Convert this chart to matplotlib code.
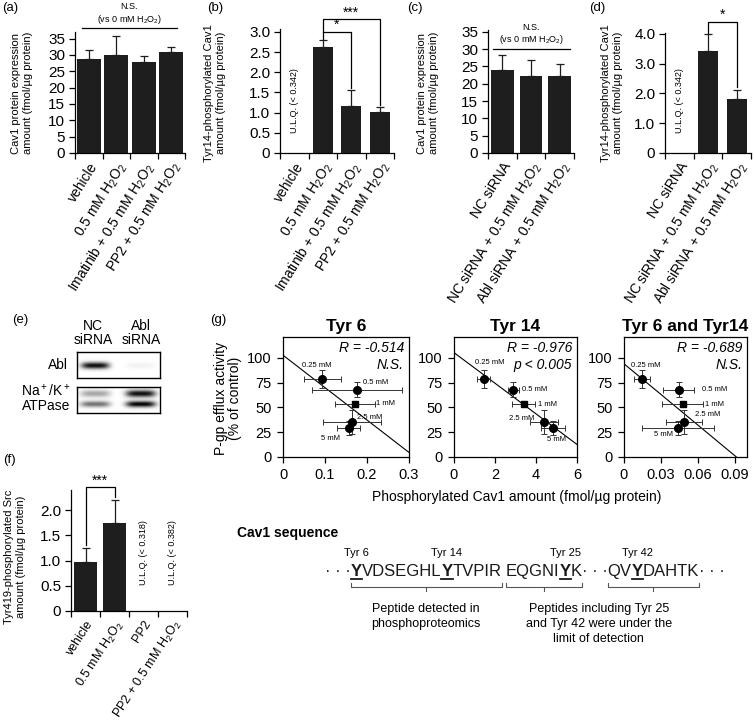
import numpy as np
import matplotlib
matplotlib.use('Agg')
import matplotlib.pyplot as plt
from matplotlib.lines import Line2D
from matplotlib.ticker import FuncFormatter

plt.rcParams['font.family'] = ['Liberation Sans', 'DejaVu Sans']
plt.rcParams['mathtext.fontset'] = 'custom'
plt.rcParams['mathtext.rm'] = 'Liberation Sans'
plt.rcParams['mathtext.it'] = 'Liberation Sans:italic'
plt.rcParams['mathtext.bf'] = 'Liberation Sans:bold'

H2O2 = 'H$_2$O$_2$'

# (a) Cav1 expression
a_labels = ['vehicle', '0.5 mM ' + H2O2, 'Imatinib + 0.5 mM ' + H2O2, 'PP2 + 0.5 mM ' + H2O2]
a_values = [28.6, 29.9, 27.8, 30.8]
a_errors = [3.0, 5.8, 1.8, 1.6]

# (b) Tyr14-phosphorylated Cav1
b_labels = a_labels
b_values = [0, 2.62, 1.16, 1.01]
b_errors = [0, 0.17, 0.41, 0.13]

# (c) Cav1 expression, siRNA
c_labels = ['NC siRNA', 'NC siRNA + 0.5 mM ' + H2O2, 'Abl siRNA + 0.5 mM ' + H2O2]
c_values = [24.0, 22.3, 22.1]
c_errors = [4.3, 4.6, 3.6]

# (d) Tyr14-phosphorylated Cav1, siRNA
d_labels = c_labels
d_values = [0, 3.42, 1.83]
d_errors = [0, 0.56, 0.30]

# (f) Tyr419-phosphorylated Src
f_labels = ['vehicle', '0.5 mM ' + H2O2, 'PP2', 'PP2 + 0.5 mM ' + H2O2]
f_values = [0.97, 1.74, 0, 0]
f_errors = [0.28, 0.47, 0, 0]

# (e) western blot band darkness (NC siRNA, Abl siRNA)
blot_lanes = ['NC\nsiRNA', 'Abl\nsiRNA']
abl_band = [0.95, 0.05]
atpase_upper = [0.35, 0.95]
atpase_lower = [0.55, 1.0]

# (g) P-gp efflux vs phosphorylated Cav1
g_conc = ['0.25 mM', '0.5 mM', '1 mM', '2.5 mM', '5 mM']
g_efflux = [79, 68, 53, 35, 29.5]
g_efflux_err = [9, 8, 3, 12, 7]
tyr6_amount = [0.094, 0.176, 0.171, 0.164, 0.156]
tyr6_err = [0.043, 0.107, 0.048, 0.069, 0.027]
tyr14_amount = [1.44, 2.90, 3.40, 4.38, 4.84]
tyr14_err = [0.32, 0.25, 0.56, 0.69, 0.59]
tyr6_14_amount = [0.0146, 0.0446, 0.0478, 0.0487, 0.0440]
tyr6_14_err = [0.0065, 0.0125, 0.0165, 0.0145, 0.029]

# Cav1 sequence
seq_pieces = ['· · ·', 'Y', 'VDSEGHL', 'Y', 'TVPIR', 'EQGNI', 'Y', 'K', '· · ·', 'QV', 'Y', 'DAHTK', '· · ·']
tyr_sites = ['Tyr 6', 'Tyr 14', 'Tyr 25', 'Tyr 42']

W, H = 754, 728
fig = plt.figure(figsize=(W / 100, H / 100), dpi=100)
BAR = '#1e1e1e'


def rect(x0, y0, x1, y1):
    return [x0 / W, 1 - y1 / H, (x1 - x0) / W, (y1 - y0) / H]


def ftext(x, y, s, **kw):
    return fig.text(x / W, 1 - y / H, s, **kw)


def fline(xs, ys, **kw):
    fig.add_artist(Line2D([x / W for x in xs], [1 - y / H for y in ys], **kw))


def bar_panel(box, labels, values, errors, ylim, yticks, fmt, width, lab_size=10, lab_rot=58):
    ax = fig.add_axes(rect(*box))
    n = len(values)
    x = np.arange(n)
    ax.bar(x, values, width=width, color=BAR, zorder=2)
    idx = [i for i in range(n) if values[i] > 0]
    ax.errorbar([x[i] for i in idx], [values[i] for i in idx],
                yerr=[[0] * len(idx), [errors[i] for i in idx]],
                fmt='none', ecolor=BAR, elinewidth=0.9, capsize=3, capthick=0.9, zorder=3)
    ax.set_xlim(-0.5, n - 0.5)
    ax.set_ylim(*ylim)
    ax.set_yticks(yticks)
    ax.yaxis.set_major_formatter(FuncFormatter(lambda v, p: '0' if v == 0 else fmt % v))
    ax.set_xticks(x)
    ax.set_xticklabels(labels, rotation=lab_rot, ha='right', va='top', rotation_mode='anchor', fontsize=lab_size)
    ax.set_xticks(np.arange(n + 1) - 0.5, minor=True)
    ax.tick_params(axis='x', which='major', length=0, pad=5)
    ax.tick_params(axis='x', which='minor', length=4, width=0.9, direction='out')
    ax.tick_params(axis='y', length=4, width=0.9, pad=3, labelsize=11)
    for s in ['top', 'right']:
        ax.spines[s].set_visible(False)
    for s in ['left', 'bottom']:
        ax.spines[s].set_linewidth(0.9)
    return ax


def bracket(ax, x1, x2, y, low1, low2, stars):
    ax.plot([x1, x1, x2, x2], [low1, y, y, low2], color='black', lw=0.9, clip_on=False)
    ax.text((x1 + x2) / 2, y, stars, ha='center', va='bottom', fontsize=10, clip_on=False)


def ulq(ax, x, y, s):
    ax.text(x, y, s, rotation=90, ha='center', va='center', fontsize=6.5)


def ns_label(ax, x0, x1, y):
    ax.plot([x0, x1], [y, y], color='black', lw=0.9, clip_on=False)
    ax.annotate('N.S.\n(vs 0 mM ' + H2O2 + ')', ((x0 + x1) / 2, y), xytext=(0, 2), textcoords='offset points',
                ha='center', va='bottom', fontsize=6.5, linespacing=1.15, annotation_clip=False)


# (a)
ax_a = bar_panel((75, 32, 185, 153), a_labels, a_values, a_errors, (0, 37), range(0, 36, 5), '%d', 0.86)
ns_label(ax_a, -0.25, 3.21, 38.1)
ftext(22, 93, 'Cav1 protein expression\namount (fmol/µg protein)', rotation=90, ha='center', va='center', fontsize=8)
ftext(2, 8, '(a)', va='center', fontsize=9.5)

# (b)
ax_b = bar_panel((280, 29, 394, 153), b_labels, b_values, b_errors, (0, 3.07), np.arange(0, 3.01, 0.5), '%.1f', 0.7)
b_tops = [v + e for v, e in zip(b_values, b_errors)]
bracket(ax_b, 1, 2, 3.0, b_tops[1] + 0.04, b_tops[2] + 0.04, '*')
bracket(ax_b, 1, 3, 3.31, 3.0, b_tops[3] + 0.06, '***')
ulq(ax_b, 0, 1.31, 'U.L.Q. (< 0.342)')
ftext(215, 93, 'Tyr14-phosphorylated Cav1\namount (fmol/µg protein)', rotation=90, ha='center', va='center', fontsize=8)
ftext(207, 8, '(b)', va='center', fontsize=9.5)

# (c)
ax_c = bar_panel((488, 30, 574, 153), c_labels, c_values, c_errors, (0, 35.5), range(0, 36, 5), '%d', 0.8)
ns_label(ax_c, -0.33, 2.36, 30.1)
ftext(428, 93, 'Cav1 protein expression\namount (fmol/µg protein)', rotation=90, ha='center', va='center', fontsize=8)
ftext(407, 8, '(c)', va='center', fontsize=9.5)

# (d)
ax_d = bar_panel((665, 33, 751, 153), d_labels, d_values, d_errors, (0, 4.03), np.arange(0, 4.01, 1.0), '%.1f', 0.7)
d_tops = [v + e for v, e in zip(d_values, d_errors)]
bracket(ax_d, 1, 2, 4.39, d_tops[1] + 0.06, d_tops[2] + 0.08, '*')
ulq(ax_d, 0, 1.77, 'U.L.Q. (< 0.342)')
ftext(612, 93, 'Tyr14-phosphorylated Cav1\namount (fmol/µg protein)', rotation=90, ha='center', va='center', fontsize=8)
ftext(589, 8, '(d)', va='center', fontsize=9.5)

# (f)
ax_f = bar_panel((71, 490, 187, 611), f_labels, f_values, f_errors, (0, 2.4), np.arange(0, 2.01, 0.5), '%.1f', 0.8,
                 lab_size=9, lab_rot=57)
f_tops = [v + e for v, e in zip(f_values, f_errors)]
bracket(ax_f, 0, 1, 2.45, f_tops[0] + 0.05, f_tops[1] + 0.05, '***')
ulq(ax_f, 2, 1.15, 'U.L.Q. (< 0.318)')
ulq(ax_f, 3, 1.15, 'U.L.Q. (< 0.382)')
ftext(15, 557, 'Tyr419-phosphorylated Src\namount (fmol/µg protein)', rotation=90, ha='center', va='center', fontsize=8)
ftext(3, 460, '(f)', va='center', fontsize=9.5)

# (e) western blot
ftext(12, 320, '(e)', va='center', fontsize=9.5)
for lane_x, lab in zip([93, 141], blot_lanes):
    ftext(lane_x, 333, lab, ha='center', va='center', fontsize=10, linespacing=1.05)
ftext(68, 365, 'Abl', ha='right', va='center', fontsize=10)
ftext(70, 398, 'Na$^+$/K$^+$\nATPase', ha='right', va='center', fontsize=10, linespacing=1.05)

gx = np.linspace(0, 1, 200)
gy = np.linspace(0, 1, 60)
GX, GY = np.meshgrid(gx, gy)
lane_pos = [0.22, 0.77]


def band(cx, cy, dark, sx, sy):
    return dark * np.exp(-((GX - cx) / sx) ** 4 - ((GY - cy) / sy) ** 2)


ax_e1 = fig.add_axes(rect(77, 352, 160, 378))
img = np.zeros_like(GX)
for lx, d in zip(lane_pos, abl_band):
    img += band(lx, 0.52, d, 0.17, 0.13)
ax_e1.imshow(1 - np.clip(img, 0, 1), cmap='gray', vmin=0, vmax=1, extent=(0, 1, 1, 0), aspect='auto')

ax_e2 = fig.add_axes(rect(77, 387, 160, 413))
img = np.zeros_like(GX)
for lx, du, dl in zip(lane_pos, atpase_upper, atpase_lower):
    img += band(lx, 0.25, du, 0.18, 0.14) + band(lx, 0.66, dl, 0.18, 0.12)
ax_e2.imshow(1 - np.clip(img, 0, 1), cmap='gray', vmin=0, vmax=1, extent=(0, 1, 1, 0), aspect='auto')
for ax in (ax_e1, ax_e2):
    ax.set_xticks([])
    ax.set_yticks([])
    for s in ax.spines.values():
        s.set_linewidth(1.0)

# (g) scatter panels
ftext(210, 320, '(g)', va='center', fontsize=9.5)
scatter_specs = [
    ((283, 337, 409, 457), tyr6_amount, tyr6_err, 'Tyr 6', (0, 0.3), [0, 0.1, 0.2, 0.3],
     ['R = -0.514', 'N.S.'], [(-6, 13), (19, 7), (31, 1), (18, 5), (-18, -11)]),
    ((454, 337, 577, 457), tyr14_amount, tyr14_err, 'Tyr 14', (0, 6), [0, 2, 4, 6],
     ['R = -0.976', 'p < 0.005'], [(6, 16), (21, 0), (24, 0), (-22, 4), (3, -12)]),
    ((624, 337, 747, 457), tyr6_14_amount, tyr6_14_err, 'Tyr 6 and Tyr14', (0, 0.1), [0, 0.03, 0.06, 0.09],
     ['R = -0.689', 'N.S.'], [(4, 13), (36, 0), (32, 0), (24, 8), (-15, -7)]),
]
markers = ['o', 'o', 's', 'o', 'o']
for box, xs, xerr, title, xlim, xticks, stats, offs in scatter_specs:
    ax = fig.add_axes(rect(*box))
    ax.errorbar(xs, g_efflux, xerr=xerr, yerr=g_efflux_err, fmt='none', ecolor='#333333',
                elinewidth=0.7, capsize=2.5, capthick=0.7, zorder=2)
    for xv, yv, m in zip(xs, g_efflux, markers):
        ax.plot(xv, yv, marker=m, color='black', markersize=5.5 if m == 'o' else 5, zorder=3)
    slope, icpt = np.polyfit(xs, g_efflux, 1)
    lx = np.array(xlim)
    ax.plot(lx, slope * lx + icpt, color='black', lw=0.8, zorder=1)
    for xv, yv, lab, (dx, dy) in zip(xs, g_efflux, g_conc, offs):
        ax.annotate(lab, (xv, yv), xytext=(dx * 0.72, dy * 0.72), textcoords='offset points',
                    ha='center', va='center', fontsize=5.5)
    ax.text(0.96, 0.905, stats[0], transform=ax.transAxes, ha='right', va='center', fontsize=10, style='italic')
    ax.text(0.96, 0.77, stats[1], transform=ax.transAxes, ha='right', va='center', fontsize=10, style='italic')
    ax.set_xlim(*xlim)
    ax.set_ylim(0, 121)
    ax.set_xticks(xticks)
    ax.set_xticklabels(['0'] + [('%g' % t) for t in xticks[1:]])
    ax.set_yticks([0, 25, 50, 75, 100])
    ax.tick_params(length=4, width=0.9, pad=4, labelsize=10.5)
    for s in ax.spines.values():
        s.set_linewidth(0.9)
    ftext((box[0] + box[2]) / 2, 326, title, ha='center', va='center', fontsize=12.5, fontweight='bold')

ftext(228, 398, 'P-gp efflux activity\n(% of control)', rotation=90, ha='center', va='center', fontsize=10, linespacing=1.0)
ftext(517, 497, 'Phosphorylated Cav1 amount (fmol/µg protein)', ha='center', va='center', fontsize=10)

# Cav1 sequence
ftext(237, 533, 'Cav1 sequence', va='center', fontsize=10, fontweight='bold')
renderer = fig.canvas.get_renderer()
inv = fig.transFigure.inverted()
x_cur = 325 / W
seq_y = 1 - 576 / H
boxes = []
for piece in seq_pieces:
    if piece == 'EQGNI':
        x_cur += 4.6 / W
    bold = piece == 'Y'
    t = fig.text(x_cur, seq_y, piece, fontsize=12, fontweight='bold' if bold else 'normal',
                 ha='left', va='baseline', color='#1a1a1a')
    bb = t.get_window_extent(renderer).transformed(inv)
    boxes.append(bb)
    x_cur = bb.x1
y_idx = [i for i, p in enumerate(seq_pieces) if p == 'Y']
for bb, site in zip([boxes[i] for i in y_idx], tyr_sites):
    fig.add_artist(Line2D([bb.x0, bb.x1], [seq_y - 2.5 / H] * 2, color='#1a1a1a', lw=1.3))
    fig.text((bb.x0 + bb.x1) / 2, 1 - 553 / H, site, ha='center', va='center', fontsize=8)

brace_spans = [(1, 4), (5, 7), (9, 11)]
brace_mid = []
for i0, i1 in brace_spans:
    x0 = boxes[i0].x0 * W
    x1 = boxes[i1].x1 * W
    fline([x0, x0, x1, x1], [583, 587, 587, 583], color='#555555', lw=0.8)
    xm = (x0 + x1) / 2
    fline([xm, xm], [587, 591], color='#555555', lw=0.8)
    brace_mid.append(xm)
ftext(brace_mid[0], 603, 'Peptide detected in\nphosphoproteomics', ha='center', va='top', fontsize=9, linespacing=1.35)
ftext((brace_mid[1] + brace_mid[2]) / 2, 603, 'Peptides including Tyr 25\nand Tyr 42 were under the\nlimit of detection',
      ha='center', va='top', fontsize=9, linespacing=1.35)

fig.savefig('out.png', dpi=100)
